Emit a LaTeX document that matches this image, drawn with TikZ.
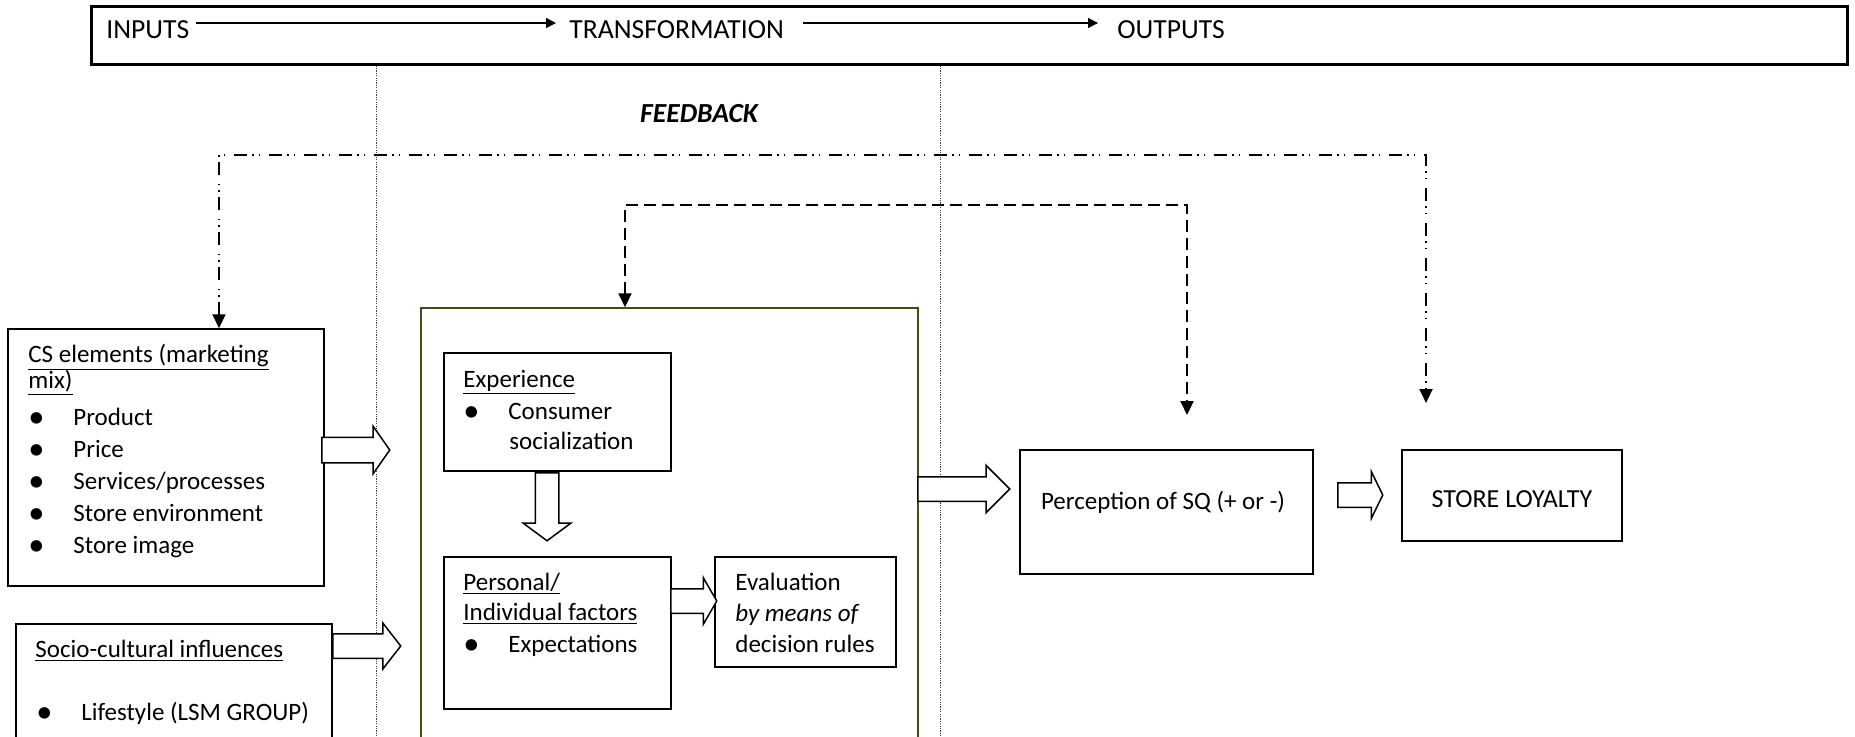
\documentclass[tikz,border=0pt]{standalone}
\usepackage{fontspec}
\setmainfont{Carlito}
\usetikzlibrary{arrows.meta,shapes.arrows,fit}
\definecolor{boxolive}{RGB}{74,74,20}
\newcommand{\bul}{\makebox[22.5pt][l]{\raisebox{-1pt}{\scalebox{1.3}{\textbullet}}}}

\begin{document}
\begin{tikzpicture}[x=0.5pt,y=-0.5pt,
    font=\fontsize{12.5}{16}\selectfont,
    box/.style={draw,line width=0.75pt,inner sep=0pt},
    txt/.style={inner sep=0pt,anchor=west,text height=9pt,text depth=2pt},
    head/.style={txt,font=\fontsize{13.8}{16}\selectfont},
    blk/.style n args={5}{single arrow,draw,fill=white,line width=0.75pt,anchor=tail,
      inner xsep=0pt,inner ysep=#2,minimum width=0pt,minimum height=#1,
      single arrow head extend=#3,single arrow tip angle=#4,rotate=#5},
    tip/.style={{Triangle[length=7pt,width=6.5pt]}-{Triangle[length=7pt,width=6.5pt]}},
    fbdd/.style={tip,line width=1pt,dash pattern=on 6.5pt off 2.5pt on 0.75pt off 2.5pt on 0.75pt off 4.5pt},
    fbdash/.style={tip,line width=1pt,dash pattern=on 6pt off 3pt},
    sep/.style={line width=0.5pt,black!75,dash pattern=on 0.6pt off 0.6pt}]

\useasboundingbox (0,0) rectangle (1855,736);
\clip (0,0) rectangle (1855,736);

\node[box,line width=1.5pt,fit={(91,6) (1847,64)}] (top) {};
\node[head] (inputs) at (106,31) {INPUTS};
\node[head] (transf) at (569,31) {TRANSFORMATION};
\node[head] (outputs) at (1117,31) {OUTPUTS};
\draw[line width=0.75pt,-{Triangle[length=5pt,width=5pt]},shorten <=3pt,shorten >=6.5pt]
  ([yshift=4pt]inputs.east) -- ([yshift=4pt]transf.west);
\draw[line width=0.75pt,-{Triangle[length=5pt,width=5pt]},shorten <=9.5pt,shorten >=9.5pt]
  ([yshift=4pt]transf.east) -- ([yshift=4pt]outputs.west);

\foreach \x in {376,940}
  \draw[sep] (top.south -| \x,0) -- (\x,736);

\node[font=\fontsize{13.8}{16}\selectfont\bfseries\itshape] (fb) at (699,114) {FEEDBACK};

\node[box,fill=white,fit={(8,329) (324,586)}] (cs) {};
\node[box,fill=white,fit={(16,624) (332,760)}] (socio) {};
\node[box,draw=boxolive,fit={(421,308) (918,745)}] (process) {};
\node[box,fit={(444,353) (671,471)}] (exper) {};
\node[box,fit={(444,557) (671,709)}] (person) {};
\node[box,fit={(715,557) (896,667)}] (evalu) {};
\node[box,fit={(1020,450) (1313,574)}] (percep) {};
\node[box,fit={(1402,450) (1622,541)}] (loyal) {};

\node[txt] (cs-h1) at (28,355) {\underline{CS elements (marketing}};
\node[txt] (cs-h2) at (28,381) {\underline{mix)}};
\foreach \y/\itemtext [count=\i] in {418/Product,450/Price,482/{Services/processes},514/Store environment,546/Store image}
  \node[txt] (cs-\i) at (28,\y) {\bul\itemtext};

\node[txt] (soc-h) at (35,650) {\underline{Socio-cultural influences}};
\node[txt] (soc-1) at (36,713) {\bul Lifestyle (LSM GROUP)};

\node[txt] (exp-h) at (463,380) {\underline{Experience}};
\node[txt] (exp-1) at (463,412) {\bul Consumer};
\node[txt] (exp-2) at (509,442) {socialization};

\node[txt] (per-h1) at (463,583) {\underline{Personal/}};
\node[txt] (per-h2) at (463,613) {\underline{Individual factors}};
\node[txt] (per-1) at (463,645) {\bul Expectations};

\foreach \y/\itemtext [count=\i] in {583/Evaluation,614/\textit{by means of},645/decision rules}
  \node[txt] (eva-\i) at (735,\y) {\itemtext};

\node[txt,anchor=center] (percep-t) at (1163,502) {Perception of SQ (+ or -)};
\node[txt,anchor=center,font=\fontsize{13}{16}\selectfont] (loyal-t) at (1512,500) {STORE LOYALTY};

\foreach \n/\x/\y/\l/\s/\e/\a/\r in {
    a-cs/321/450/34pt/6pt/5.5pt/110/0,
    a-soc/332/646/34pt/5.75pt/5.25pt/104/0,
    a-exp/547/472/34pt/5.5pt/6pt/107/-90,
    a-per/670/601/23pt/5.75pt/5.5pt/120/0,
    a-proc/917/489/46pt/5.75pt/5.75pt/90/0,
    a-perc/1337/495/22.5pt/5.75pt/5.5pt/128/0}
  \node[blk={\l}{\s}{\e}{\a}{\r}] (\n) at (\x,\y) {};

\coordinate (fbA) at (219,155);
\coordinate (fbB) at (1426,155);
\coordinate (fbEnd) at (1426,403);
\draw[fbdd] (cs.north -| fbA) -- (fbA) -- (fbB) -- (fbEnd);

\coordinate (fdA) at (625,205);
\coordinate (fdB) at (1187,205);
\coordinate (fdEnd) at (1187,415);
\draw[fbdash] (process.north -| fdA) -- (fdA) -- (fdB) -- (fdEnd);
\end{tikzpicture}
\end{document}
